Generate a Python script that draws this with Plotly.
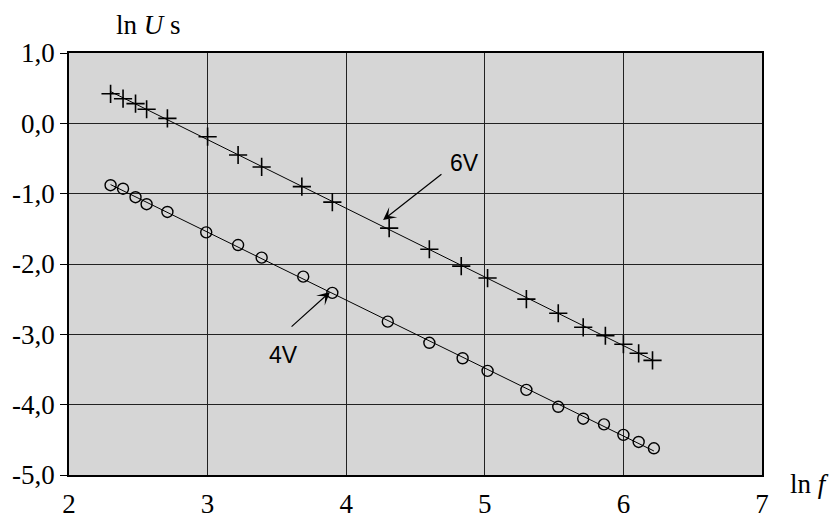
import numpy as np
import plotly.graph_objects as go

# 6V series (+ markers)
x6 = [2.30, 2.39, 2.48, 2.56, 2.71, 3.00, 3.22, 3.39, 3.68, 3.90, 4.31, 4.60, 4.83, 5.02, 5.30, 5.53, 5.71, 5.87, 6.00, 6.11, 6.21]
y6 = [0.42, 0.35, 0.28, 0.20, 0.07, -0.19, -0.45, -0.62, -0.90, -1.12, -1.49, -1.79, -2.03, -2.20, -2.50, -2.70, -2.90, -3.02, -3.14, -3.27, -3.37]
# 4V series (o markers)
x4 = [2.30, 2.39, 2.48, 2.56, 2.71, 2.99, 3.22, 3.39, 3.69, 3.90, 4.30, 4.60, 4.84, 5.02, 5.30, 5.53, 5.71, 5.86, 6.00, 6.11, 6.22]
y4 = [-0.88, -0.93, -1.05, -1.15, -1.26, -1.55, -1.73, -1.91, -2.18, -2.41, -2.82, -3.12, -3.34, -3.52, -3.79, -4.03, -4.20, -4.28, -4.43, -4.53, -4.62]

x_ticks = [2, 3, 4, 5, 6, 7]
y_ticks = [1, 0, -1, -2, -3, -4, -5]
y_ticktext = ["1,0", "0,0", "-1,0", "-2,0", "-3,0", "-4,0", "-5,0"]

serif = "Liberation Serif"
sans = "Liberation Sans"

fig = go.Figure()

for xs, ys in [(x6, y6), (x4, y4)]:
    k, b = np.polyfit(xs, ys, 1)
    xl = [min(xs), max(xs)]
    fig.add_trace(go.Scatter(x=xl, y=[k * v + b for v in xl], mode="lines",
                             line=dict(color="black", width=1), showlegend=False,
                             hoverinfo="skip"))

fig.add_trace(go.Scatter(x=x6, y=y6, mode="markers", showlegend=False,
                         marker=dict(symbol="cross-thin-open", size=13, color="black",
                                     line=dict(color="black", width=1.6))))
fig.add_trace(go.Scatter(x=x4, y=y4, mode="markers", showlegend=False,
                         marker=dict(symbol="circle-open", size=11, color="black",
                                     line=dict(color="black", width=1.4))))

fig.update_layout(
    width=830, height=510,
    margin=dict(l=61, r=76, t=45, b=43, autoexpand=False),
    paper_bgcolor="white", plot_bgcolor="#d6d6d6",
    font=dict(family=serif, size=27, color="black"),
    xaxis=dict(range=[2, 7], tickvals=x_ticks, showgrid=True, gridcolor="#222",
               gridwidth=1, zeroline=False, showline=True, mirror=True,
               linecolor="black", linewidth=1.5, ticks="outside", ticklen=4,
               tickcolor="rgba(0,0,0,0)", automargin=False,
               tickfont=dict(family=serif, size=27, color="black")),
    yaxis=dict(range=[-5, 1], tickvals=y_ticks, ticktext=y_ticktext, showgrid=True,
               gridcolor="#222", gridwidth=1, zeroline=False, showline=True,
               mirror=True, linecolor="black", linewidth=1.5, ticks="outside",
               ticklen=7, tickcolor="black", automargin=False,
               tickfont=dict(family=serif, size=27, color="black")),
    annotations=[
        dict(text="ln <i>U</i> s", xref="paper", yref="paper", x=0.114, y=1.066,
             showarrow=False, font=dict(family=serif, size=27), xanchor="center",
             yanchor="middle"),
        dict(text="ln <i>f</i>", xref="paper", yref="paper", x=1.068, y=-0.022,
             showarrow=False, font=dict(family=serif, size=27), xanchor="center",
             yanchor="middle"),
        dict(text="", x=4.266, y=-1.375, ax=4.698, ay=-0.706, axref="x", ayref="y",
             showarrow=True, arrowhead=3, arrowsize=1.8, arrowwidth=1.2,
             arrowcolor="black"),
        dict(text="6V", x=4.857, y=-0.564, showarrow=False,
             font=dict(family=sans, size=23)),
        dict(text="", x=3.883, y=-2.398, ax=3.595, ay=-2.91, axref="x", ayref="y",
             showarrow=True, arrowhead=3, arrowsize=1.8, arrowwidth=1.2,
             arrowcolor="black"),
        dict(text="4V", x=3.544, y=-3.29, showarrow=False,
             font=dict(family=sans, size=23)),
    ],
)

fig.write_html("out.html")
